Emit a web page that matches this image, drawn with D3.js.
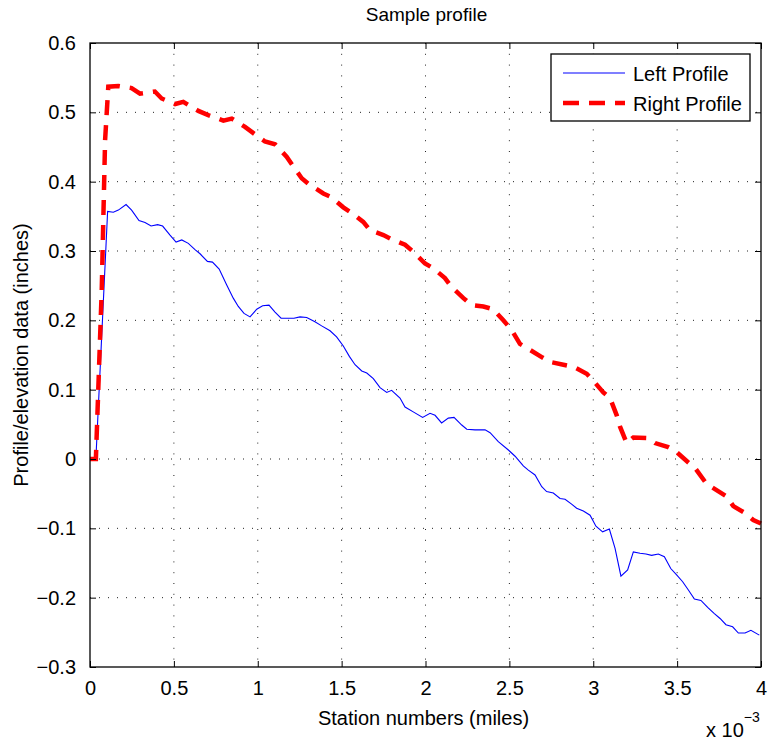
<!DOCTYPE html>
<html>
<head>
<meta charset="utf-8">
<script src="https://cdn.jsdelivr.net/npm/d3@7"></script>
<style>
  body { margin: 0; background: #fff; }
  text { font-family: "Liberation Sans", Arial, Helvetica, sans-serif; fill: #000; }
</style>
</head>
<body>
<div id="chart"></div>
<script>
// station positions are in units of 1e-3 miles
let leftX = [0, 0.035, 0.105, 0.139, 0.169, 0.215, 0.248, 0.292, 0.328, 0.364, 0.403, 0.433, 0.477, 0.513, 0.547, 0.586, 0.626, 0.656, 0.70, 0.73, 0.77,
  0.815, 0.854, 0.884, 0.918, 0.954, 0.994, 1.029, 1.067, 1.103, 1.139, 1.182, 1.216, 1.252, 1.292, 1.341, 1.381, 1.431, 1.470, 1.510, 1.546,
  1.580, 1.620, 1.650, 1.689, 1.729, 1.769, 1.798, 1.848, 1.878, 1.927, 1.983, 2.027, 2.057, 2.096, 2.136, 2.170, 2.216, 2.246, 2.295, 2.355,
  2.385, 2.434, 2.494, 2.534, 2.583, 2.613, 2.653, 2.693, 2.722, 2.762, 2.802, 2.832, 2.871, 2.901, 2.941, 2.981, 3.016, 3.056, 3.096, 3.130,
  3.165, 3.205, 3.239, 3.279, 3.314, 3.348, 3.388, 3.424, 3.462, 3.497, 3.533, 3.567, 3.603, 3.642, 3.682, 3.722, 3.756, 3.791, 3.831, 3.865,
  3.905, 3.940, 3.990];
let leftY = [0, 0, 0.357, 0.356, 0.359, 0.367, 0.359, 0.344, 0.341, 0.336, 0.338, 0.336, 0.323, 0.313, 0.316, 0.311, 0.302, 0.296, 0.285, 0.284, 0.274,
  0.251, 0.232, 0.220, 0.210, 0.205, 0.216, 0.221, 0.222, 0.212, 0.203, 0.203, 0.203, 0.205, 0.204, 0.198, 0.192, 0.185, 0.176, 0.163, 0.148,
  0.136, 0.127, 0.124, 0.116, 0.103, 0.096, 0.099, 0.088, 0.075, 0.068, 0.060, 0.066, 0.063, 0.052, 0.059, 0.060, 0.049, 0.043, 0.042, 0.042,
  0.038, 0.025, 0.013, 0.004, -0.010, -0.016, -0.023, -0.040, -0.047, -0.049, -0.057, -0.058, -0.065, -0.071, -0.075, -0.081, -0.097, -0.105, -0.101, -0.129,
  -0.169, -0.160, -0.134, -0.136, -0.137, -0.139, -0.137, -0.141, -0.158, -0.167, -0.177, -0.189, -0.202, -0.204, -0.214, -0.223, -0.230, -0.239, -0.242, -0.251,
  -0.251, -0.247, -0.254];

let rightX = [0, 0.035, 0.07, 0.09, 0.109, 0.169, 0.248, 0.298, 0.387, 0.427, 0.507, 0.556, 0.646, 0.705, 0.795, 0.845, 0.924, 0.974, 1.043, 1.103,
  1.172, 1.212, 1.262, 1.302, 1.391, 1.436, 1.510, 1.560, 1.629, 1.669, 1.749, 1.798, 1.878, 1.927, 1.997, 2.047, 2.116, 2.156, 2.226, 2.275,
  2.345, 2.404, 2.464, 2.514, 2.563, 2.619, 2.693, 2.742, 2.822, 2.882, 2.961, 3.000, 3.060, 3.100, 3.140, 3.159, 3.199, 3.239, 3.328, 3.368,
  3.447, 3.487, 3.567, 3.607, 3.676, 3.716, 3.795, 3.835, 3.905, 3.954, 4.0];
let rightY = [0, 0, 0.244, 0.46, 0.537, 0.538, 0.535, 0.527, 0.530, 0.520, 0.512, 0.515, 0.502, 0.496, 0.488, 0.491, 0.479, 0.470, 0.458, 0.454,
  0.436, 0.422, 0.405, 0.397, 0.383, 0.378, 0.363, 0.355, 0.342, 0.330, 0.323, 0.317, 0.309, 0.299, 0.282, 0.275, 0.261, 0.248, 0.232, 0.222,
  0.220, 0.216, 0.200, 0.186, 0.166, 0.158, 0.147, 0.140, 0.136, 0.133, 0.123, 0.113, 0.096, 0.088, 0.063, 0.047, 0.023, 0.031, 0.030, 0.023,
  0.017, 0.012, -0.005, -0.013, -0.036, -0.042, -0.054, -0.068, -0.078, -0.088, -0.093];

let xTicks = [0, 0.5, 1, 1.5, 2, 2.5, 3, 3.5, 4];
let xTickLabels = ['0', '0.5', '1', '1.5', '2', '2.5', '3', '3.5', '4'];
let yTicks = [-0.3, -0.2, -0.1, 0, 0.1, 0.2, 0.3, 0.4, 0.5, 0.6];
let yTickLabels = ['\u22120.3', '\u22120.2', '\u22120.1', '0', '0.1', '0.2', '0.3', '0.4', '0.5', '0.6'];
let seriesNames = ['Left Profile', 'Right Profile'];

let width = 768, height = 744;
let margin = {'top': 43, 'bottom': 77, 'left': 90, 'right': 7};
let plotW = width - margin.left - margin.right;
let plotH = height - margin.top - margin.bottom;

let svg = d3.select('#chart').append('svg').attr('width', width).attr('height', height);
let g = svg.append('g').attr('transform', 'translate(' + [margin.left, margin.top] + ')');

let xScale = d3.scaleLinear().domain([0, 4]).range([0, plotW]);
let yScale = d3.scaleLinear().domain([-0.3, 0.6]).range([plotH, 0]);

// dotted grid
g.selectAll('.vgrid').data(xTicks.slice(1, -1)).enter().append('line')
  .attr('x1', d => xScale(d)).attr('x2', d => xScale(d))
  .attr('y1', 0).attr('y2', plotH)
  .attr('stroke', '#222').attr('stroke-width', 1).attr('stroke-dasharray', '1,9.8');
g.selectAll('.hgrid').data(yTicks.slice(1, -1)).enter().append('line')
  .attr('x1', 0).attr('x2', plotW)
  .attr('y1', d => yScale(d)).attr('y2', d => yScale(d))
  .attr('stroke', '#222').attr('stroke-width', 1).attr('stroke-dasharray', '1,8');

// series
let leftData = leftX.map((x, i) => [x, leftY[i]]);
let rightData = rightX.map((x, i) => [x, rightY[i]]);
let line = d3.line().x(d => xScale(d[0])).y(d => yScale(d[1]));

g.append('path').datum(leftData).attr('d', line)
  .attr('fill', 'none').attr('stroke', '#0000ff').attr('stroke-width', 1.1);
g.append('path').datum(rightData).attr('d', line)
  .attr('fill', 'none').attr('stroke', '#ff0000').attr('stroke-width', 4.5)
  .attr('stroke-dasharray', '15,10');

// axes, ticks inside on all four sides
let fmtX = (d, i) => xTickLabels[i];
let fmtY = (d, i) => yTickLabels[i];
let axes = [
  g.append('g').attr('transform', 'translate(0,' + plotH + ')')
    .call(d3.axisBottom(xScale).tickValues(xTicks).tickFormat(fmtX).tickSize(-6).tickPadding(14)),
  g.append('g')
    .call(d3.axisTop(xScale).tickValues(xTicks).tickFormat('').tickSize(-6)),
  g.append('g')
    .call(d3.axisLeft(yScale).tickValues(yTicks).tickFormat(fmtY).tickSize(-6).tickPadding(14)),
  g.append('g').attr('transform', 'translate(' + plotW + ',0)')
    .call(d3.axisRight(yScale).tickValues(yTicks).tickFormat('').tickSize(-6))
];
axes.forEach(a => {
  a.select('.domain').remove();
  a.selectAll('line').attr('stroke', '#000').attr('stroke-width', 1);
  a.selectAll('text').attr('font-size', 20).attr('fill', '#000')
    .style('font-family', '"Liberation Sans", Arial, sans-serif');
});

g.append('rect').attr('width', plotW).attr('height', plotH)
  .attr('fill', 'none').attr('stroke', '#000').attr('stroke-width', 1.3);

// titles
svg.append('text').attr('x', margin.left + plotW / 2 + 1).attr('y', 21)
  .attr('text-anchor', 'middle').attr('font-size', 19).text('Sample profile');
svg.append('text').attr('x', margin.left + plotW / 2 - 2).attr('y', 725)
  .attr('text-anchor', 'middle').attr('font-size', 20).text('Station numbers (miles)');
svg.append('text').attr('transform', 'translate(28,' + (margin.top + plotH / 2) + ') rotate(-90)')
  .attr('text-anchor', 'middle').attr('font-size', 20).text('Profile/elevation data (inches)');

let expo = svg.append('text').attr('x', 706).attr('y', 737).attr('font-size', 20);
expo.append('tspan').text('x 10');
expo.append('tspan').attr('dy', -15).attr('font-size', 14).text('\u22123');

// legend
let legend = svg.append('g').attr('transform', 'translate(551,54)');
legend.append('rect').attr('width', 199).attr('height', 67)
  .attr('fill', '#fff').attr('stroke', '#000').attr('stroke-width', 1.3);
let legendStyles = [
  {color: '#0000ff', w: 1.1, dash: null},
  {color: '#ff0000', w: 4.5, dash: '16,10'}
];
seriesNames.forEach((name, i) => {
  let yy = 19 + i * 30;
  legend.append('line').attr('x1', 12).attr('x2', 74).attr('y1', yy).attr('y2', yy)
    .attr('stroke', legendStyles[i].color).attr('stroke-width', legendStyles[i].w)
    .attr('stroke-dasharray', legendStyles[i].dash);
  legend.append('text').attr('x', 82).attr('y', yy + 8).attr('font-size', 20).text(name);
});
</script>
</body>
</html>
